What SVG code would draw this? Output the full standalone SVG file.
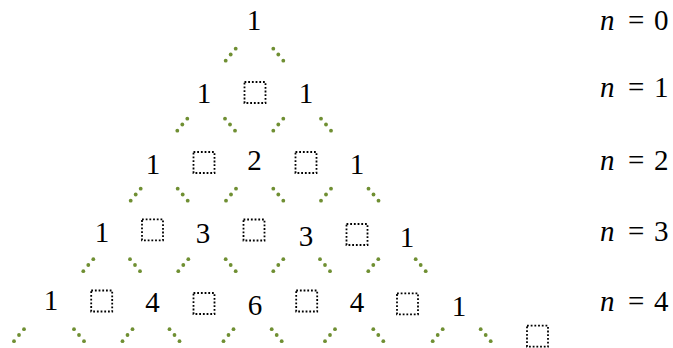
<svg xmlns="http://www.w3.org/2000/svg" xmlns:xlink="http://www.w3.org/1999/xlink" width="673" height="348" viewBox="0 0 673 348">
<style>
text{font-size:29px;fill:#000}
.num{text-anchor:middle}
.box{fill:none;stroke:#000;stroke-width:1.8;stroke-dasharray:1.8 1.9}
.dot{fill:#6F8F32}
</style>
<defs>
<g id="up"><circle class="dot" cx="-5" cy="6.2" r="1.9"/><circle class="dot" cx="0" cy="0" r="1.9"/><circle class="dot" cx="5" cy="-5.8" r="1.9"/></g>
<g id="dn"><circle class="dot" cx="-5" cy="-5.8" r="1.9"/><circle class="dot" cx="0" cy="0" r="1.9"/><circle class="dot" cx="5" cy="6.2" r="1.9"/></g>
</defs>
<rect width="673" height="348" fill="#fff"/>
<g id="connectors">
<use xlink:href="#up" x="230.7" y="54.5"/><use xlink:href="#dn" x="278.3" y="54.5"/>
<use xlink:href="#up" x="182.3" y="124.5"/><use xlink:href="#dn" x="230" y="124.5"/><use xlink:href="#up" x="278.3" y="124.5"/><use xlink:href="#dn" x="326" y="124.5"/>
<use xlink:href="#up" x="135.7" y="194.5"/><use xlink:href="#dn" x="182.7" y="194.5"/><use xlink:href="#up" x="231" y="194.5"/><use xlink:href="#dn" x="278.3" y="194.5"/><use xlink:href="#up" x="326" y="194.5"/><use xlink:href="#dn" x="373.5" y="194.5"/>
<use xlink:href="#up" x="88.3" y="265"/><use xlink:href="#dn" x="135" y="265"/><use xlink:href="#up" x="183.3" y="265"/><use xlink:href="#dn" x="230.7" y="265"/><use xlink:href="#up" x="278.3" y="265"/><use xlink:href="#dn" x="325" y="265"/><use xlink:href="#up" x="373.3" y="265"/><use xlink:href="#dn" x="420.7" y="265"/>
<use xlink:href="#up" x="19" y="335"/><use xlink:href="#dn" x="79" y="335"/><use xlink:href="#up" x="127.5" y="335"/><use xlink:href="#dn" x="174.5" y="335"/><use xlink:href="#up" x="228.5" y="335"/><use xlink:href="#dn" x="276.7" y="335"/><use xlink:href="#up" x="330" y="335"/><use xlink:href="#dn" x="378.3" y="335"/><use xlink:href="#up" x="437.7" y="335"/><use xlink:href="#dn" x="485.7" y="335"/>
</g>
<g id="nodes" font-family="Liberation Serif, DejaVu Serif, serif">
<g id="r0c0"><text class="num" x="254" y="30">1</text></g>
<g id="r1c0"><text class="num" x="204" y="103">1</text></g>
<g id="r1b0"><rect class="box" x="244.5" y="82" width="21" height="21"/></g>
<g id="r1c1"><text class="num" x="306" y="103">1</text></g>
<g id="r2c0"><text class="num" x="153" y="174">1</text></g>
<g id="r2b0"><rect class="box" x="193.5" y="152" width="21" height="21"/></g>
<g id="r2c1"><text class="num" x="254.5" y="170">2</text></g>
<g id="r2b1"><rect class="box" x="295.5" y="152" width="21" height="21"/></g>
<g id="r2c2"><text class="num" x="357" y="174">1</text></g>
<g id="r3c0"><text class="num" x="102" y="241.7">1</text></g>
<g id="r3b0"><rect class="box" x="142" y="219.3" width="21" height="21"/></g>
<g id="r3c1"><text class="num" x="203" y="242.5">3</text></g>
<g id="r3b1"><rect class="box" x="243.5" y="219.5" width="21" height="21"/></g>
<g id="r3c2"><text class="num" x="306" y="245.5">3</text></g>
<g id="r3b2"><rect class="box" x="346.5" y="224" width="21" height="21"/></g>
<g id="r3c3"><text class="num" x="407" y="246.7">1</text></g>
<g id="r4c0"><text class="num" x="51" y="310">1</text></g>
<g id="r4b0"><rect class="box" x="91.2" y="290.5" width="21" height="21"/></g>
<g id="r4c1"><text class="num" x="152.5" y="312">4</text></g>
<g id="r4b1"><rect class="box" x="193.5" y="293" width="21" height="21"/></g>
<g id="r4c2"><text class="num" x="255" y="315">6</text></g>
<g id="r4b2"><rect class="box" x="296.2" y="290.5" width="21" height="21"/></g>
<g id="r4c3"><text class="num" x="357" y="312">4</text></g>
<g id="r4b3"><rect class="box" x="397" y="293.3" width="21" height="21"/></g>
<g id="r4c4"><text class="num" x="459" y="315.5">1</text></g>
<g id="r5b"><rect class="box" x="527" y="325.7" width="21" height="21"/></g>
</g>
<g id="labels" font-family="Liberation Serif, DejaVu Serif, serif">
<text y="30"><tspan x="600" font-style="italic">n</tspan><tspan x="628">=</tspan><tspan x="654">0</tspan></text>
<text y="97"><tspan x="600" font-style="italic">n</tspan><tspan x="628">=</tspan><tspan x="654">1</tspan></text>
<text y="170"><tspan x="600" font-style="italic">n</tspan><tspan x="628">=</tspan><tspan x="654">2</tspan></text>
<text y="241"><tspan x="600" font-style="italic">n</tspan><tspan x="628">=</tspan><tspan x="654">3</tspan></text>
<text y="311"><tspan x="600" font-style="italic">n</tspan><tspan x="628">=</tspan><tspan x="654">4</tspan></text>
</g>
</svg>
